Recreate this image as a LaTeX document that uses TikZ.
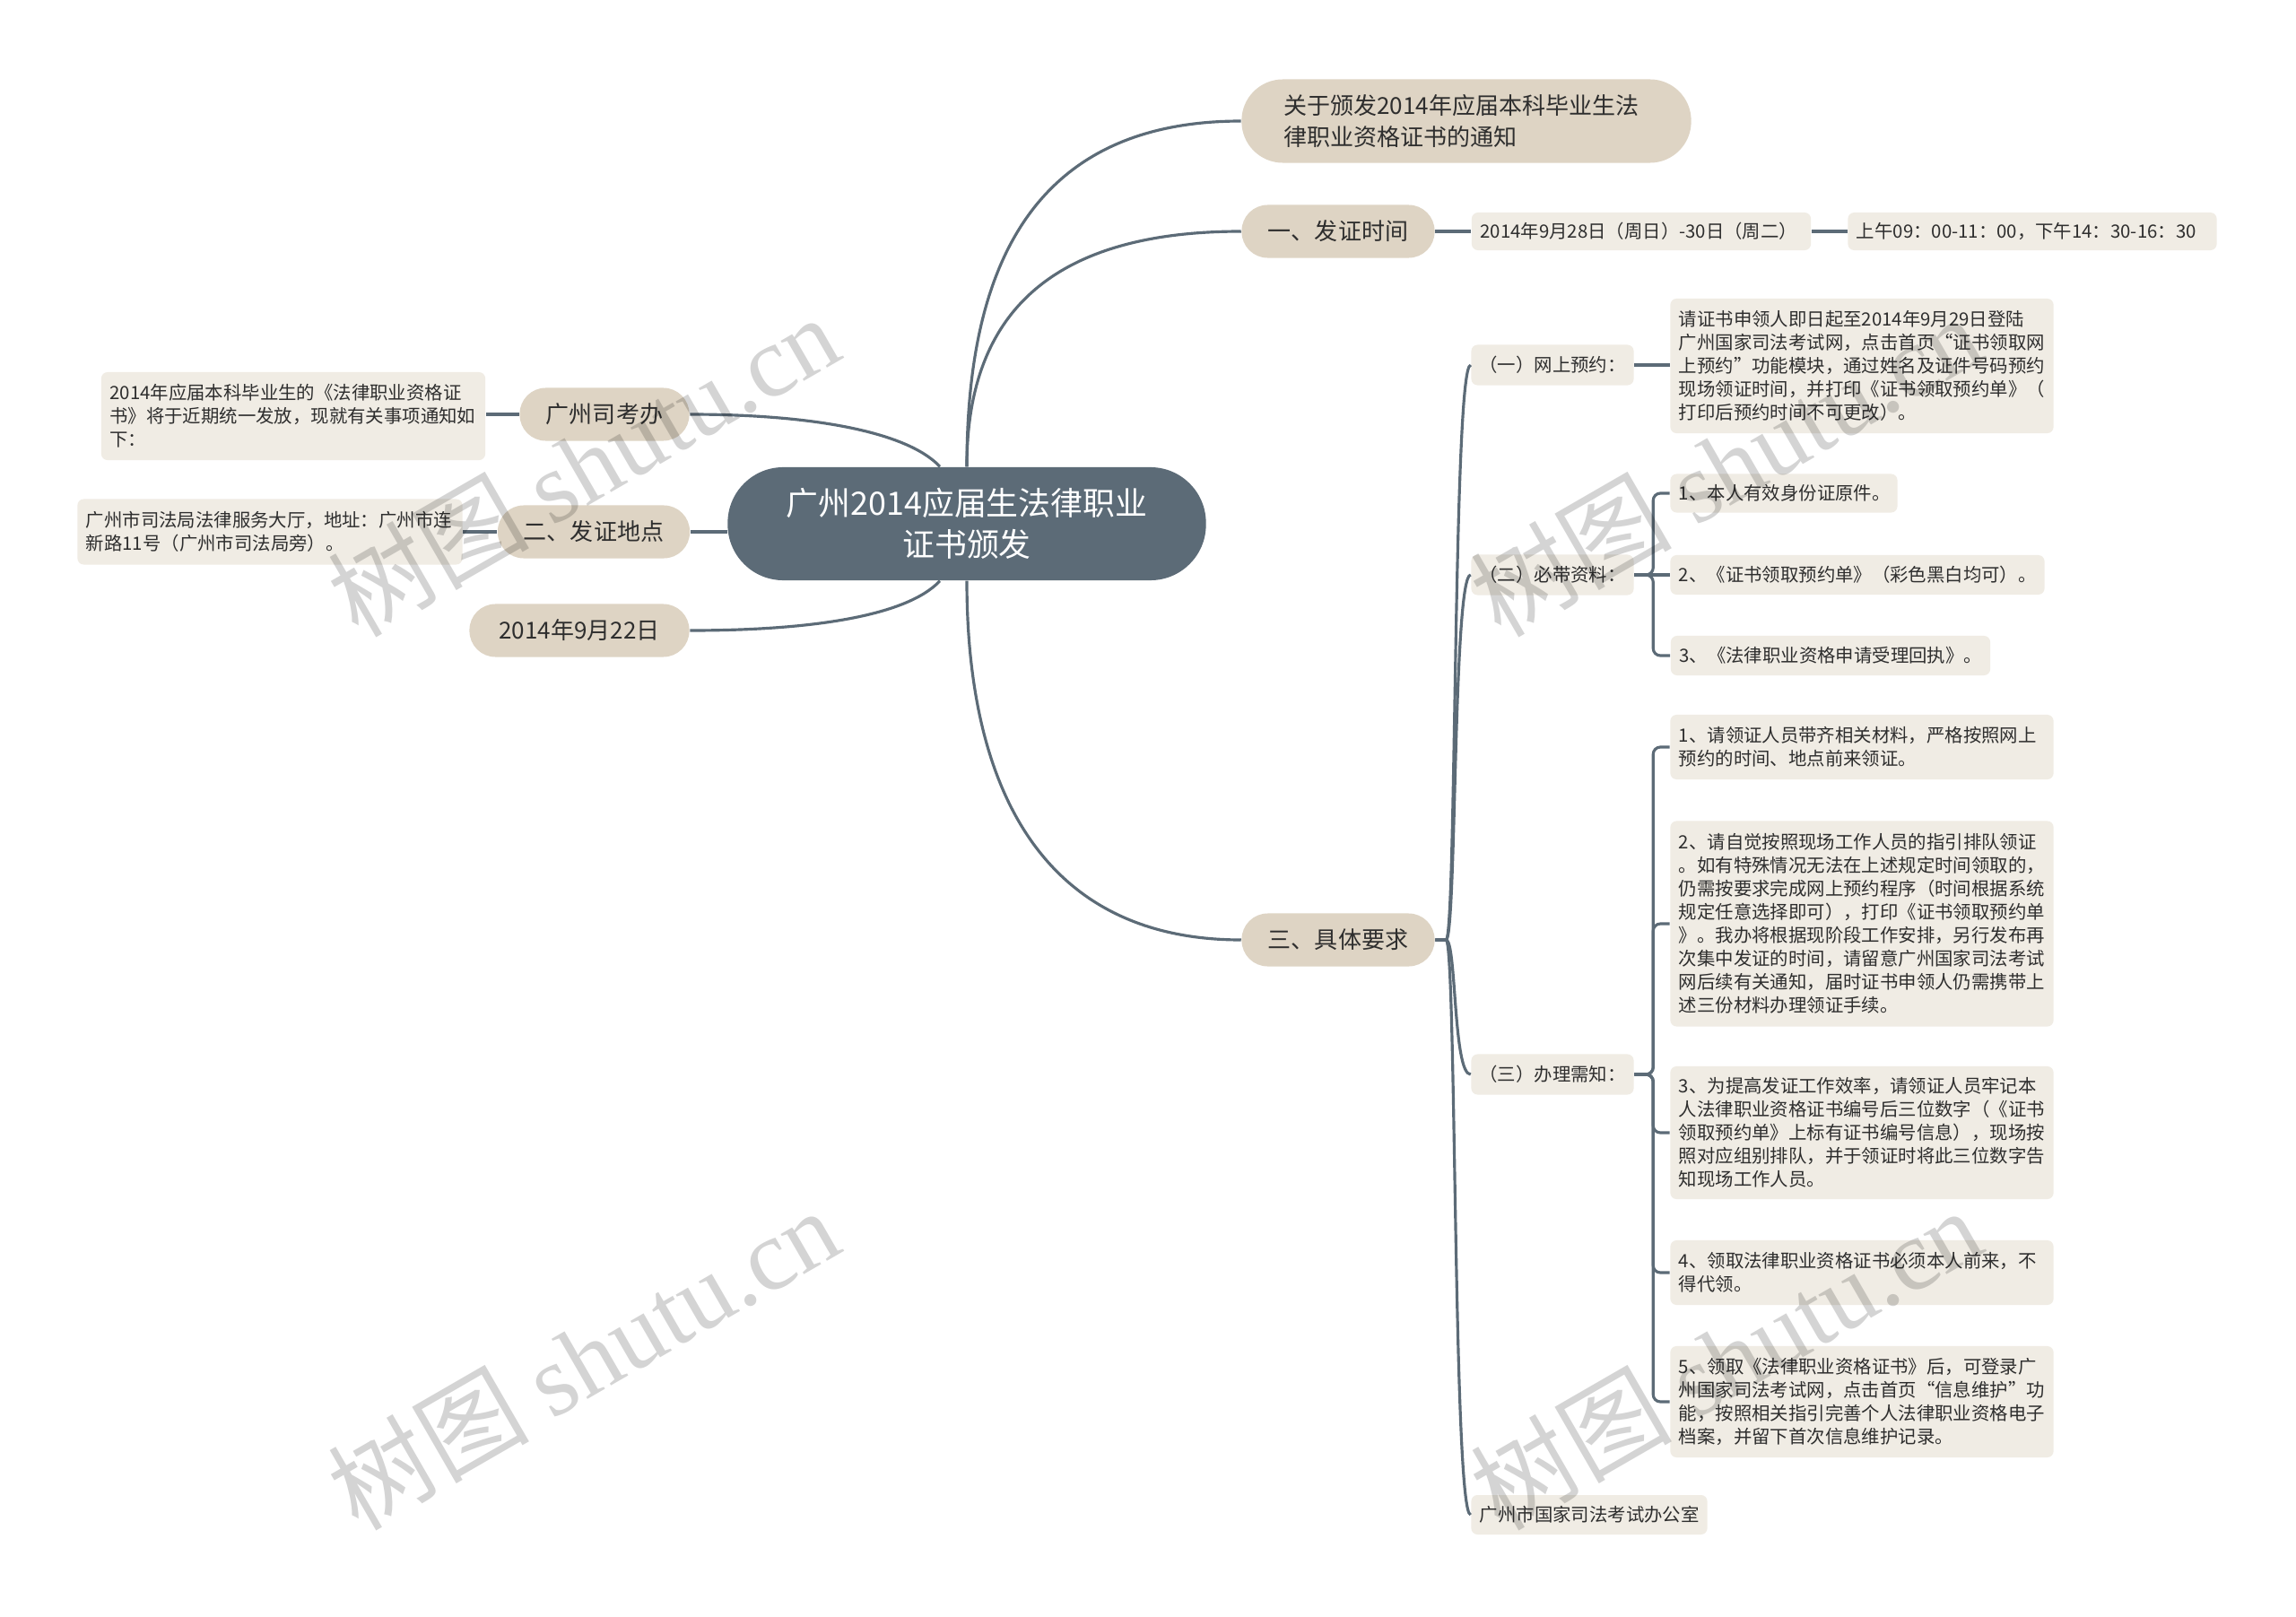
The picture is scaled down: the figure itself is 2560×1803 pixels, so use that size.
\documentclass[tikz,border=0pt]{standalone}
\usepackage{fontspec}
\setmainfont{Noto Sans CJK SC}
\newfontfamily\wmserif{Liberation Serif}
\definecolor{rootc}{HTML}{5C6B77}
\definecolor{linec}{HTML}{5C6B77}
\definecolor{brc}{HTML}{DED4C4}
\definecolor{lfc}{HTML}{F0ECE4}
\definecolor{txt}{HTML}{2E2E2E}
\begin{document}
\begin{tikzpicture}[x=0.01cm,y=-0.01cm,
  rootn/.style={fill=rootc, text=white, rounded corners=0.62cm, minimum width=5.33cm, minimum height=1.26cm, align=center, inner sep=0pt, font=\fontsize{10.2}{13.1}\selectfont},
  brn/.style={fill=brc, text=txt, rounded corners=0.29cm, minimum height=0.59cm, inner sep=0pt, font=\fontsize{7.4}{9.7}\selectfont},
  leaf/.style={fill=lfc, text=txt, rounded corners=0.07cm, inner xsep=0.095cm, inner ysep=0pt, align=left, font=\fontsize{5.8}{7.4}\selectfont},
  subn/.style={fill=lfc, text=txt, rounded corners=0.07cm, inner sep=0pt, minimum width=1.81cm, minimum height=0.45cm, font=\fontsize{5.8}{7.4}\selectfont},
  conn/.style={draw=linec, line width=0.9pt},
  wm/.style={text=black, text opacity=0.17, rotate=30, inner sep=0pt, font=\fontsize{32}{32}\selectfont}
]
\fill[white] (0,0) rectangle (2560,1803);
\useasboundingbox (0,0) rectangle (2560,1803);

% root and main branches
\node[rootn] (root) at (1078,584) {广州2014应届生法律职业\\证书颁发};
\node[brn, minimum width=5.01cm, minimum height=0.93cm, rounded corners=0.46cm, text width=4.07cm, inner xsep=0.47cm, align=left] (top) at (1635,135) {关于颁发2014年应届本科毕业生法\\律职业资格证书的通知};
\node[brn, minimum width=2.15cm] (b1) at (1492,258) {一、发证时间};
\node[brn, minimum width=2.15cm] (b3) at (1492,1048) {三、具体要求};
\node[brn, minimum width=1.89cm] (gk) at (674,462) {广州司考办};
\node[brn, minimum width=2.14cm] (dd) at (662,593) {二、发证地点};
\node[brn, minimum width=2.45cm] (dt) at (646,703) {2014年9月22日};

% leaves
\node[leaf, text width=3.59cm, minimum height=0.42cm] (d1) at (1830,258) {2014年9月28日（周日）-30日（周二）};
\node[leaf, text width=3.92cm, minimum height=0.42cm] (d2) at (2266,258) {上午09：00-11：00，下午14：30-16：30};

\node[subn] (s1) at (1731,407) {（一）网上预约：};
\node[leaf, text width=4.08cm, minimum height=1.50cm] (s1t) at (2076,408) {请证书申领人即日起至2014年9月29日登陆\\广州国家司法考试网，点击首页“证书领取网\\上预约”功能模块，通过姓名及证件号码预约\\现场领证时间，并打印《证书领取预约单》（\\打印后预约时间不可更改）。};

\node[subn] (s2) at (1731,641) {（二）必带资料：};
\node[leaf, text width=2.34cm, minimum height=0.43cm] (m1) at (1989,550) {1、本人有效身份证原件。};
\node[leaf, text width=3.98cm, minimum height=0.44cm] (m2) at (2071,641) {2、《证书领取预约单》（彩色黑白均可）。};
\node[leaf, text width=3.37cm, minimum height=0.44cm] (m3) at (2041,731) {3、《法律职业资格申请受理回执》。};

\node[subn] (s3) at (1731,1198) {（三）办理需知：};
\node[leaf, text width=4.08cm, minimum height=0.72cm] (n1) at (2076,833) {1、请领证人员带齐相关材料，严格按照网上\\预约的时间、地点前来领证。};
\node[leaf, text width=4.08cm, minimum height=2.29cm] (n2) at (2076,1030) {2、请自觉按照现场工作人员的指引排队领证\\。如有特殊情况无法在上述规定时间领取的，\\仍需按要求完成网上预约程序（时间根据系统\\规定任意选择即可），打印《证书领取预约单\\》。我办将根据现阶段工作安排，另行发布再\\次集中发证的时间，请留意广州国家司法考试\\网后续有关通知，届时证书申领人仍需携带上\\述三份材料办理领证手续。};
\node[leaf, text width=4.08cm, minimum height=1.48cm] (n3) at (2076,1263) {3、为提高发证工作效率，请领证人员牢记本\\人法律职业资格证书编号后三位数字（《证书\\领取预约单》上标有证书编号信息），现场按\\照对应组别排队，并于领证时将此三位数字告\\知现场工作人员。};
\node[leaf, text width=4.08cm, minimum height=0.72cm] (n4) at (2076,1419) {4、领取法律职业资格证书必须本人前来，不\\得代领。};
\node[leaf, text width=4.08cm, minimum height=1.24cm] (n5) at (2076,1563) {5、领取《法律职业资格证书》后，可登录广\\州国家司法考试网，点击首页“信息维护”功\\能，按照相关指引完善个人法律职业资格电子\\档案，并留下首次信息维护记录。};
\node[leaf, text width=2.44cm, minimum height=0.44cm] (off) at (1772,1689) {广州市国家司法考试办公室};

\node[leaf, text width=4.09cm, minimum height=0.98cm] (tgz) at (327,464) {2014年应届本科毕业生的《法律职业资格证\\书》将于近期统一发放，现就有关事项通知如\\下：};
\node[leaf, text width=4.10cm, minimum height=0.73cm] (tdd) at (301,593) {广州市司法局法律服务大厅，地址：广州市连\\新路11号（广州市司法局旁）。};

% connectors from root
\draw[conn] (root.north) .. controls (1078,301) and (1149,135) .. (top.west);
\draw[conn] (root.north) .. controls (1078,371) and (1149,258) .. (b1.west);
\draw[conn] (root.south) .. controls (1078,876) and (1160,1048) .. (b3.west);
\draw[conn] (gk.east) .. controls (900,462) and (1010,480) .. ([xshift=-0.3cm]root.north);
\draw[conn] (dd.east) -- (dd.east -| root.west);
\draw[conn] (dt.east) .. controls (900,703) and (1010,688) .. ([xshift=-0.3cm]root.south);
\draw[conn] (gk.west) -- (gk.west -| tgz.east);
\draw[conn] (dd.west) -- (dd.west -| tdd.east);

% branch 1
\draw[conn] (b1.east) -- (d1.west);
\draw[conn] (d1.east) -- (d2.west);

% branch 3
\draw[conn] (b3.east) -- ++(12,0) .. controls (1624,1048) and (1620,407) .. (s1.west);
\draw[conn] (b3.east) -- ++(12,0) .. controls (1624,1048) and (1620,641) .. (s2.west);
\draw[conn] (b3.east) -- ++(12,0) .. controls (1624,1048) and (1620,1198) .. (s3.west);
\draw[conn] (b3.east) -- ++(12,0) .. controls (1624,1048) and (1620,1689) .. (off.west);
\draw[conn] (s1.east) -- (s1.east -| s1t.west);
\draw[conn, rounded corners=0.08cm] (s2.east) -- ++(21,0) |- (m1.west);
\draw[conn] (s2.east) -- (m2.west);
\draw[conn, rounded corners=0.08cm] (s2.east) -- ++(21,0) |- (m3.west);
\foreach \n in {n1,n2,n3,n4,n5}{
  \draw[conn, rounded corners=0.08cm] (s3.east) -- ++(21,0) |- (\n.west);
}

% watermarks
\node[wm] (w1) at (650,518) {树图 {\wmserif shutu.cn}};
\node[wm] (w2) at (650,1514) {树图 {\wmserif shutu.cn}};
\node[wm] (w3) at (1924,518) {树图 {\wmserif shutu.cn}};
\node[wm] (w4) at (1924,1514) {树图 {\wmserif shutu.cn}};
\end{tikzpicture}
\end{document}
